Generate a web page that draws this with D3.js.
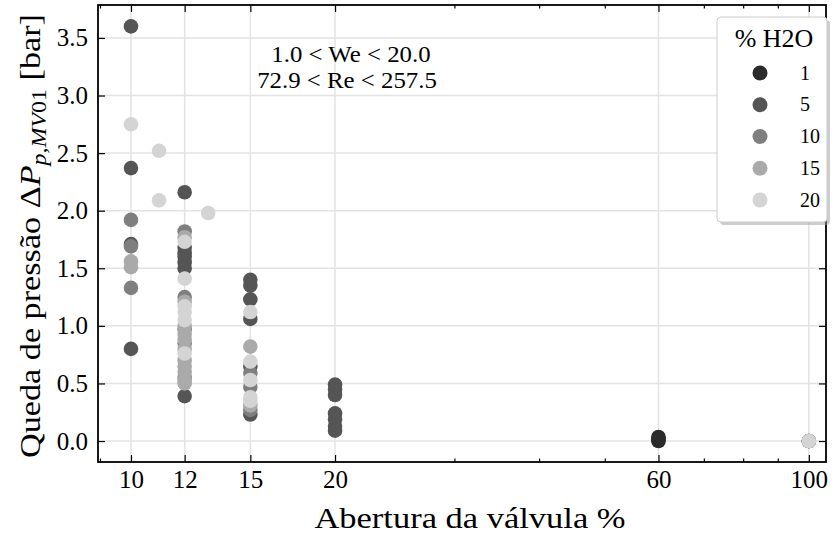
<!DOCTYPE html>
<html>
<head>
<meta charset="utf-8">
<script src="https://cdn.jsdelivr.net/npm/d3@7"></script>
<style>
  html, body { margin: 0; padding: 0; background: #fff; }
  svg { display: block; }
  text { font-family: "Liberation Serif", "Times New Roman", serif; fill: #000; }
</style>
</head>
<body>
<svg id="chart" width="835" height="537"></svg>
<script>
// ---------- data ----------
const seriesNames = ["1", "5", "10", "15", "20"];
const seriesColors = ["#2b2b2b", "#555555", "#7f7f7f", "#aaaaaa", "#d4d4d4"];

const h2o_1 = [[60, 0.0], [60, 0.012], [60, 0.025], [60, 0.035], [100, 0.0]];
const h2o_5 = [[10, 3.60], [10, 2.37], [10, 1.71], [10, 0.80],
  [12, 2.16], [12, 1.68], [12, 1.64], [12, 1.60], [12, 1.55], [12, 1.50], [12, 0.39],
  [15, 1.40], [15, 1.35], [15, 1.23], [15, 1.06], [15, 0.65], [15, 0.23],
  [20, 0.49], [20, 0.45], [20, 0.40], [20, 0.24], [20, 0.19], [20, 0.13], [20, 0.09],
  [100, 0.0]];
const h2o_10 = [[10, 1.92], [10, 1.69], [10, 1.33],
  [12, 1.82], [12, 1.25], [12, 0.97], [12, 0.85], [12, 0.55],
  [15, 0.59], [15, 0.47], [15, 0.27], [100, 0.0]];
const h2o_15 = [[10, 1.56], [10, 1.51],
  [12, 1.77], [12, 1.21], [12, 1.00], [12, 0.93], [12, 0.88], [12, 0.80], [12, 0.70],
  [12, 0.65], [12, 0.60], [12, 0.53], [12, 0.50],
  [15, 0.82], [15, 0.31], [100, 0.0]];
const h2o_20 = [[10, 2.75], [11, 2.52], [11, 2.09], [13, 1.98],
  [12, 1.73], [12, 1.41], [12, 1.17], [12, 1.12], [12, 1.05], [12, 0.76],
  [15, 1.12], [15, 0.69], [15, 0.53], [15, 0.38], [15, 0.35], [100, 0.0]];
const seriesData = [h2o_1, h2o_5, h2o_10, h2o_15, h2o_20];

const xMajorTicks = [10, 12, 15, 20, 60, 100];
const xMinorTicks = [9, 30, 40, 50, 70, 80, 90];
const yTicks = [0.0, 0.5, 1.0, 1.5, 2.0, 2.5, 3.0, 3.5];
const annotationLines = ["1.0 < We < 20.0", "72.9 < Re < 257.5"];

// ---------- layout ----------
const L = 98, R = 826, T = 5, B = 462;
const svg = d3.select("#chart");
svg.append("rect").attr("width", 835).attr("height", 537).attr("fill", "#fff");

const x = d3.scaleLog().domain([8.94, 106]).range([L, R]);
const y = d3.scaleLinear().domain([-0.182, 3.786]).range([B, T]);

// grid
const grid = svg.append("g");
grid.selectAll("line.gx").data(xMajorTicks).join("line")
  .attr("x1", d => x(d)).attr("x2", d => x(d)).attr("y1", T).attr("y2", B)
  .attr("stroke", "#e3e3e3").attr("stroke-width", 1.5);
grid.selectAll("line.gy").data(yTicks).join("line")
  .attr("y1", d => y(d)).attr("y2", d => y(d)).attr("x1", L).attr("x2", R)
  .attr("stroke", "#e3e3e3").attr("stroke-width", 1.5);

// points
const pts = svg.append("g");
seriesData.forEach((arr, i) => {
  pts.append("g").selectAll("circle").data(arr).join("circle")
    .attr("cx", d => x(d[0])).attr("cy", d => y(d[1])).attr("r", 7.3)
    .attr("fill", seriesColors[i]);
});

// axes
const fmt = d3.format(".1f");
function styleAxis(g) {
  g.select(".domain").remove();
  g.selectAll(".tick line").attr("stroke", "#000").attr("stroke-width", 1.2);
  g.selectAll("text").attr("font-size", 25).attr("font-family", "Liberation Serif, serif");
}
svg.append("g").attr("transform", `translate(0,${B})`)
  .call(d3.axisBottom(x).tickValues(xMajorTicks).tickFormat(d3.format("d")).tickSize(-7).tickPadding(8))
  .call(styleAxis);
svg.append("g").attr("transform", `translate(0,${B})`)
  .call(d3.axisBottom(x).tickValues(xMinorTicks).tickFormat("").tickSize(-3.5))
  .call(styleAxis);
svg.append("g").attr("transform", `translate(0,${T})`)
  .call(d3.axisTop(x).tickValues(xMajorTicks).tickFormat("").tickSize(-7))
  .call(styleAxis);
svg.append("g").attr("transform", `translate(0,${T})`)
  .call(d3.axisTop(x).tickValues(xMinorTicks).tickFormat("").tickSize(-3.5))
  .call(styleAxis);
svg.append("g").attr("transform", `translate(${L},0)`)
  .call(d3.axisLeft(y).tickValues(yTicks).tickFormat(fmt).tickSize(-7).tickPadding(10))
  .call(styleAxis);
svg.append("g").attr("transform", `translate(${R},0)`)
  .call(d3.axisRight(y).tickValues(yTicks).tickFormat("").tickSize(-7))
  .call(styleAxis);

// frame
svg.append("rect").attr("x", L).attr("y", T).attr("width", R - L).attr("height", B - T)
  .attr("fill", "none").attr("stroke", "#000").attr("stroke-width", 1.8);

// annotation
svg.append("text").attr("text-anchor", "middle")
  .attr("transform", "translate(351,62) scale(1.08,1)")
  .attr("font-size", 23).text(annotationLines[0]);
svg.append("text").attr("text-anchor", "middle")
  .attr("transform", "translate(347,88) scale(1.08,1)")
  .attr("font-size", 23).text(annotationLines[1]);

// axis labels
svg.append("text").attr("text-anchor", "middle")
  .attr("transform", "translate(470,528) scale(1.15,1)")
  .attr("font-size", 30).text("Abertura da válvula %");

const yl = svg.append("text").attr("text-anchor", "middle")
  .attr("transform", "translate(40,236) rotate(-90) scale(1.14,1)")
  .attr("font-size", 30);
yl.append("tspan").text("Queda de pressão Δ");
yl.append("tspan").attr("font-style", "italic").text("P");
yl.append("tspan").attr("font-style", "italic").attr("font-size", 21).attr("dy", 6).text("p,MV");
yl.append("tspan").attr("font-size", 21).text("01");
yl.append("tspan").attr("dy", -6).text(" [bar]");

// legend
const lg = svg.append("g");
lg.append("rect").attr("x", 720).attr("y", 20).attr("width", 110).attr("height", 205)
  .attr("rx", 4).attr("fill", "#999").attr("opacity", 0.5);
lg.append("rect").attr("x", 717).attr("y", 17).attr("width", 110).attr("height", 205)
  .attr("rx", 4).attr("fill", "#fff").attr("stroke", "#cccccc").attr("stroke-width", 1);
lg.append("text").attr("x", 774).attr("y", 47).attr("text-anchor", "middle")
  .attr("font-size", 26).text("% H2O");
const rowY = d3.scaleLinear().domain([0, 4]).range([73, 200]);
seriesNames.forEach((n, i) => {
  lg.append("circle").attr("cx", 760).attr("cy", rowY(i)).attr("r", 7.5).attr("fill", seriesColors[i]);
  lg.append("text").attr("x", 800).attr("y", rowY(i) + 6.5).attr("font-size", 20).text(n);
});
</script>
</body>
</html>
